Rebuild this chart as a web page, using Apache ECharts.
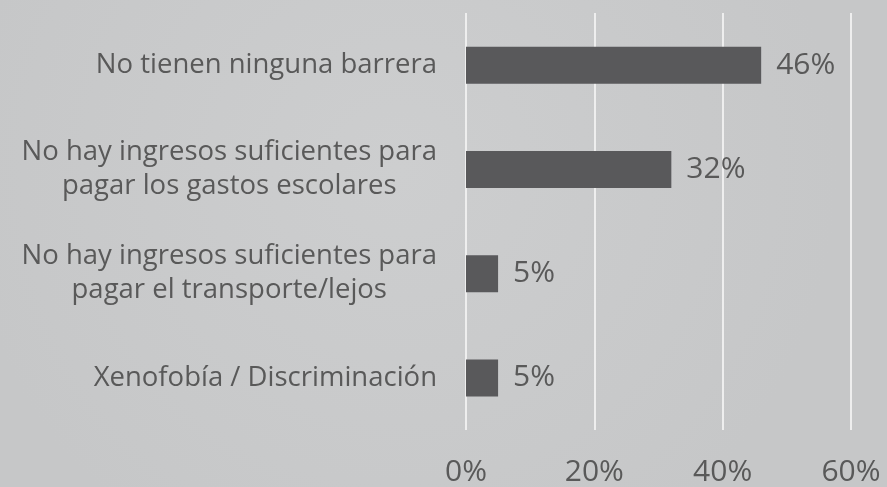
<!DOCTYPE html>
<html>
<head>
<meta charset="utf-8">
<script src="https://cdn.jsdelivr.net/npm/echarts@6/dist/echarts.min.js"></script>
<style>
  html, body { margin: 0; padding: 0; }
  body { background: #c9cacb; }
  #chart { width: 887px; height: 487px; }
</style>
</head>
<body>
<div id="chart"></div>
<script>
// Barreras de acceso a la educación
const categories = [
  'No tienen ninguna barrera',
  'No hay ingresos suficientes para\npagar los gastos escolares',
  'No hay ingresos suficientes para\npagar el transporte/lejos',
  'Xenofobía / Discriminación'
];
const values = [46, 32, 5, 5];
const xTicks = [0, 20, 40, 60];

const textColor = '#595959';
const fontFamily = '"Open Sans", "Noto Sans", sans-serif';

const chart = echarts.init(document.getElementById('chart'));
chart.setOption({
  backgroundColor: {
    type: 'radial', x: 0.45, y: 0.35, r: 0.9,
    colorStops: [
      { offset: 0, color: '#cdcecf' },
      { offset: 1, color: '#c6c7c8' }
    ]
  },
  grid: { left: 466, right: 36, top: 13, bottom: 55 },
  xAxis: {
    type: 'value',
    min: xTicks[0],
    max: xTicks[xTicks.length - 1],
    interval: 20,
    axisLine: { show: false },
    axisTick: { show: false },
    splitLine: { show: true, lineStyle: { color: '#eeeeee', width: 2 } },
    axisLabel: {
      color: textColor, fontFamily: fontFamily, fontSize: 30, margin: 27,
      formatter: v => v + '%'
    }
  },
  yAxis: {
    type: 'category',
    inverse: true,
    data: categories,
    axisLine: { show: false },
    axisTick: { show: false },
    axisLabel: {
      margin: 29,
      formatter: v => v.split('\n').map(s => '{a|' + s + '}').join('\n'),
      rich: {
        a: { color: textColor, fontFamily: fontFamily, fontSize: 27.5, lineHeight: 34, align: 'center' }
      }
    }
  },
  series: [{
    type: 'bar',
    data: values,
    barWidth: 37,
    itemStyle: { color: '#59595b' },
    label: {
      show: true, position: 'right', distance: 15,
      color: textColor, fontFamily: fontFamily, fontSize: 30,
      formatter: p => p.value + '%'
    },
    animation: false
  }]
});
</script>
</body>
</html>
